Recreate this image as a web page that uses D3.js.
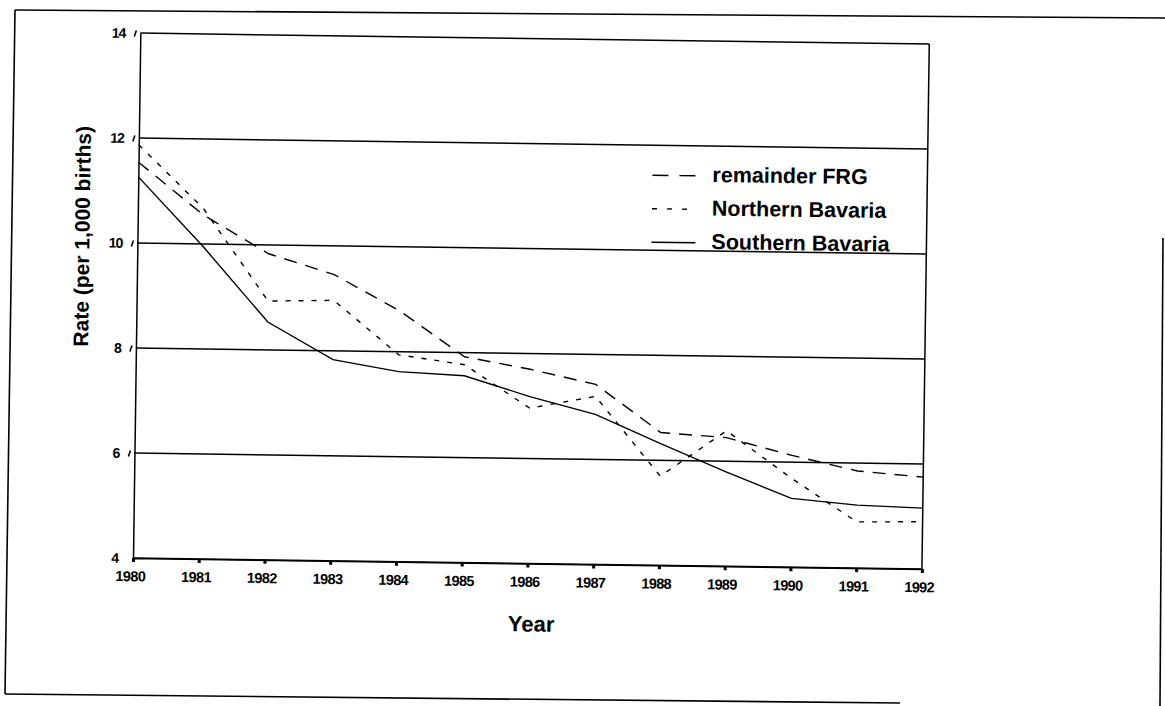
<!DOCTYPE html>
<html>
<head>
<meta charset="utf-8">
<script src="https://cdn.jsdelivr.net/npm/d3@7"></script>
<style>
body{margin:0;background:#fff;}
svg{display:block;font-family:"Liberation Sans",Arial,sans-serif;}
</style>
</head>
<body>
<script>
// values
const years=[1980,1981,1982,1983,1984,1985,1986,1987,1988,1989,1990,1991,1992];
const remainderFRG=[11.54,10.55,9.83,9.45,8.78,7.92,7.70,7.43,6.53,6.45,6.13,5.85,5.75];
const northernBavaria=[11.87,10.67,8.93,8.96,7.94,7.77,6.96,7.20,5.70,6.58,5.69,4.88,4.90];
const southernBavaria=[11.26,9.95,8.53,7.83,7.62,7.56,7.18,6.86,6.32,5.80,5.31,5.20,5.16];
const yTicks=[4,6,8,10,12,14];
const seriesNames=["remainder FRG","Northern Bavaria","Southern Bavaria"];
const seriesDash=["13,9","5,8",null];

const W=1165, H=706;
const svg=d3.select("body").append("svg").attr("width",W).attr("height",H);
svg.append("rect").attr("width",W).attr("height",H).attr("fill","#fff");

// page frame (scan edges)
const frame=[[[15,10],[1165,18]],[[15,10],[5,694]],[[5,694],[900,703]],[[1163,238],[1160,706]]];
frame.forEach(f=>{
  svg.append("line").attr("x1",f[0][0]).attr("y1",f[0][1]).attr("x2",f[1][0]).attr("y2",f[1][1])
     .attr("stroke","#000").attr("stroke-width",1.6);
});

// whole chart sits slightly rotated, like the scan
const g=svg.append("g").attr("transform","rotate(0.8,133,558)");

const x=d3.scaleLinear().domain([1980,1992]).range([133,922]);
const y=d3.scaleLinear().domain([4,14]).range([558,33]);

// gridlines + box
g.selectAll(".grid").data(yTicks).enter().append("line")
  .attr("x1",x(1980)).attr("x2",x(1992))
  .attr("y1",d=>y(d)).attr("y2",d=>y(d))
  .attr("stroke","#000").attr("stroke-width",1.5);
g.append("line").attr("x1",x(1992)).attr("x2",x(1992)).attr("y1",y(14)).attr("y2",y(4))
  .attr("stroke","#000").attr("stroke-width",1.5);

// y axis
const ya=g.append("g").attr("transform","translate("+x(1980)+",0)")
  .call(d3.axisLeft(y).tickValues(yTicks).tickSize(0).tickPadding(15));
ya.select(".domain").attr("stroke","#000").attr("stroke-width",1.5);
ya.selectAll("text").attr("font-size",14).attr("font-weight","bold").attr("fill","#000")
  .attr("font-family","Liberation Sans, Arial, sans-serif").attr("letter-spacing","-1");
ya.selectAll(".tick").filter(d=>d>4).append("line")
  .attr("x1",-6).attr("y1",3).attr("x2",-4).attr("y2",-3)
  .attr("stroke","#000").attr("stroke-width",1.6);

// x axis
const xa=g.append("g").attr("transform","translate(0,"+y(4)+")")
  .call(d3.axisBottom(x).tickValues(years).tickFormat(d3.format("d")).tickSize(4).tickPadding(9));
xa.select(".domain").attr("stroke","#000").attr("stroke-width",1.5);
xa.selectAll(".tick line").attr("stroke","#000").attr("stroke-width",3);
xa.selectAll("text").attr("font-size",14.5).attr("font-weight","bold").attr("fill","#000")
  .attr("font-family","Liberation Sans, Arial, sans-serif").attr("letter-spacing","-0.6").attr("dx",-3);

// axis titles
g.append("text").attr("x",532).attr("y",626).attr("text-anchor","middle")
  .attr("font-size",22).attr("font-weight","bold").text("Year");
g.append("text").attr("transform","translate(85,237) rotate(-90)").attr("text-anchor","middle")
  .attr("font-size",21).attr("font-weight","bold").text("Rate (per 1,000 births)");

// series
const allSeries=[remainderFRG,northernBavaria,southernBavaria];
const line=d3.line().x((d,i)=>x(years[i])).y(d=>y(d));
allSeries.forEach((s,k)=>{
  g.append("path").datum(s).attr("d",line).attr("fill","none")
    .attr("stroke","#000").attr("stroke-width",1.4)
    .attr("stroke-dasharray",seriesDash[k]);
});

// legend
const legendDash=["16,11","5,10",null];
seriesNames.forEach((name,k)=>{
  const by=174+k*33.5;
  g.append("line").attr("x1",647).attr("x2",691).attr("y1",by-6).attr("y2",by-6)
    .attr("stroke","#000").attr("stroke-width",1.4).attr("stroke-dasharray",legendDash[k]);
  g.append("text").attr("x",707).attr("y",by).attr("font-size",21.5).attr("font-weight","bold")
    .text(name);
});
</script>
</body>
</html>
